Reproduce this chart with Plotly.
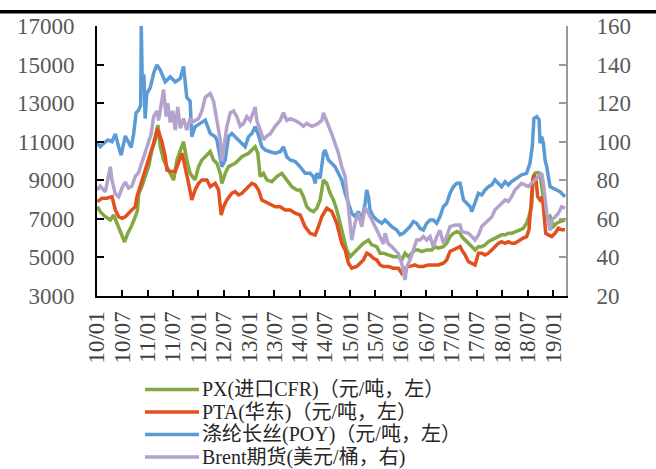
import plotly.graph_objects as go

# ---- PX (imported, CFR), yuan/ton, left axis ----
px_dates = [
    "2010-01-04", "2010-01-24", "2010-03-02", "2010-04-07", "2010-05-01", "2010-05-25",
    "2010-06-18", "2010-07-19", "2010-08-10", "2010-09-05", "2010-10-04", "2010-10-20",
    "2010-10-28", "2010-11-20", "2010-12-14", "2011-01-08", "2011-02-01", "2011-02-25",
    "2011-03-16", "2011-04-02", "2011-04-26", "2011-05-20", "2011-06-13", "2011-07-07",
    "2011-07-31", "2011-08-24", "2011-09-17", "2011-10-10", "2011-11-03", "2011-11-20",
    "2011-12-09", "2012-01-03", "2012-01-27", "2012-02-20", "2012-03-27", "2012-04-20",
    "2012-05-14", "2012-06-07", "2012-06-19", "2012-07-13", "2012-08-06", "2012-09-23",
    "2012-10-17", "2012-11-10", "2012-12-28", "2013-01-21", "2013-02-14", "2013-03-05",
    "2013-03-22", "2013-04-15", "2013-05-09", "2013-06-14", "2013-07-20", "2013-08-25",
    "2013-09-30", "2013-11-05", "2013-12-11", "2014-01-04", "2014-01-28", "2014-02-21",
    "2014-03-17", "2014-04-10", "2014-05-04", "2014-05-28", "2014-06-21", "2014-07-15",
    "2014-08-08", "2014-09-01", "2014-09-25", "2014-10-19", "2014-11-12", "2014-12-06",
    "2014-12-30", "2015-01-23", "2015-02-16", "2015-03-12", "2015-04-05", "2015-05-11",
    "2015-06-04", "2015-07-10", "2015-08-03", "2015-08-27", "2015-10-02", "2015-11-07",
    "2015-12-13", "2016-01-06", "2016-01-30", "2016-02-23", "2016-03-18", "2016-04-11",
    "2016-05-05", "2016-05-29", "2016-07-04", "2016-08-09", "2016-09-02", "2016-09-26",
    "2016-11-01", "2016-11-25", "2016-12-19", "2017-01-13", "2017-02-06", "2017-03-02",
    "2017-03-14", "2017-04-07", "2017-05-01", "2017-05-25", "2017-06-18", "2017-07-12",
    "2017-08-05", "2017-08-29", "2017-09-22", "2017-10-16", "2017-11-08", "2017-12-02",
    "2017-12-26", "2018-01-20", "2018-02-13", "2018-03-08", "2018-04-01", "2018-05-08",
    "2018-05-31", "2018-06-24", "2018-07-11", "2018-07-30", "2018-08-11", "2018-08-23",
    "2018-09-12", "2018-09-29", "2018-10-11", "2018-10-23", "2018-11-04", "2018-11-16",
    "2018-12-10", "2019-01-03", "2019-01-27", "2019-02-20", "2019-03-28",
]
px_values = [
    7630, 7370, 7110, 6940, 7200, 6770,
    6250, 5800, 6250, 6600, 7110, 7460,
    8300, 8670, 9190, 9710, 10570, 11090,
    11870, 10740, 10050, 9710, 9350, 9010,
    10050, 10570, 11000, 10050, 9360, 9190,
    9020, 9710, 10050, 10220, 10490, 10050,
    9880, 9360, 8840, 9360, 9710, 9880,
    10050, 10220, 10400, 10570, 10740, 10400,
    9190, 9360, 9020, 8930, 9190, 9360,
    9020, 8670, 8500, 8500, 8150, 7630,
    7460, 7380, 7550, 7980, 9010, 8840,
    8330, 7980, 7460, 6770, 6070, 5390,
    5040, 5220, 5390, 5560, 5740, 5900,
    5650, 5560, 5220, 5220, 5130, 5040,
    5040, 4870, 5220, 5040, 5220, 5390,
    5390, 5300, 5390, 5390, 5560, 5480,
    5560, 5740, 6080, 6250, 6340, 6250,
    6080, 5910, 5740, 5560, 5390, 5560,
    5560, 5650, 5820, 5910, 6000, 6080,
    6170, 6170, 6250, 6250, 6340, 6430,
    6510, 6770, 7120, 7630, 9190, 9360,
    9400, 9360, 8670, 7980, 7630, 6940,
    7120, 6600, 6770, 6860, 6940,
]

# ---- PTA (East China), yuan/ton, left axis ----
pta_dates = [
    "2010-01-04", "2010-02-06", "2010-03-14", "2010-04-19", "2010-05-13", "2010-06-06",
    "2010-06-30", "2010-07-24", "2010-08-17", "2010-09-10", "2010-10-04", "2010-10-16",
    "2010-11-08", "2010-12-01", "2010-12-26", "2011-01-20", "2011-02-13", "2011-03-09",
    "2011-03-21", "2011-04-14", "2011-05-08", "2011-05-20", "2011-06-13", "2011-07-19",
    "2011-08-10", "2011-09-05", "2011-09-17", "2011-10-10", "2011-10-28", "2011-11-15",
    "2011-12-09", "2012-01-03", "2012-01-27", "2012-03-03", "2012-03-27", "2012-05-02",
    "2012-05-26", "2012-06-14", "2012-07-01", "2012-07-25", "2012-08-30", "2012-09-23",
    "2012-10-17", "2012-11-10", "2012-12-04", "2012-12-28", "2013-01-21", "2013-02-14",
    "2013-03-10", "2013-04-03", "2013-04-27", "2013-06-02", "2013-07-08", "2013-08-13",
    "2013-09-18", "2013-10-24", "2013-11-29", "2014-01-04", "2014-02-09", "2014-03-17",
    "2014-04-22", "2014-05-16", "2014-06-09", "2014-07-15", "2014-08-20", "2014-09-25",
    "2014-10-31", "2014-11-24", "2014-12-18", "2015-01-11", "2015-02-16", "2015-03-12",
    "2015-04-05", "2015-04-29", "2015-05-23", "2015-06-16", "2015-07-10", "2015-08-03",
    "2015-08-27", "2015-10-02", "2015-11-07", "2015-12-13", "2016-01-06", "2016-01-30",
    "2016-02-23", "2016-03-18", "2016-04-11", "2016-05-05", "2016-06-10", "2016-07-16",
    "2016-08-21", "2016-09-26", "2016-11-01", "2016-11-25", "2016-12-19", "2017-01-13",
    "2017-02-06", "2017-03-02", "2017-03-14", "2017-04-07", "2017-05-01", "2017-05-25",
    "2017-06-18", "2017-07-12", "2017-08-05", "2017-08-29", "2017-09-22", "2017-10-16",
    "2017-11-08", "2017-12-02", "2017-12-26", "2018-01-20", "2018-02-13", "2018-03-08",
    "2018-04-01", "2018-05-08", "2018-05-31", "2018-06-24", "2018-07-11", "2018-07-25",
    "2018-08-07", "2018-08-18", "2018-08-31", "2018-09-12", "2018-09-29", "2018-10-16",
    "2018-10-30", "2018-11-09", "2018-11-28", "2018-12-22", "2019-01-15", "2019-02-08",
    "2019-03-04", "2019-03-28",
]
pta_values = [
    7890, 8070, 8070, 8150, 7460, 7110,
    7030, 7110, 7290, 7460, 7630, 8150,
    8670, 9190, 9700, 10400, 10920, 11610,
    11530, 11000, 10220, 9530, 9450, 9450,
    9880, 10400, 10050, 9360, 8670, 7980,
    8500, 8840, 9020, 9020, 8670, 8840,
    8500, 7200, 7630, 7980, 8330, 8410,
    8240, 8330, 8500, 8670, 8840, 8760,
    8500, 7980, 7890, 7800, 7630, 7630,
    7460, 7460, 7290, 7200, 6590, 6250,
    6160, 6590, 7110, 7550, 7380, 6770,
    5730, 5390, 4700, 4440, 4530, 4700,
    4870, 5220, 5130, 4960, 4870, 4610,
    4530, 4530, 4440, 4440, 4180, 4440,
    4530, 4560, 4610, 4530, 4530, 4610,
    4610, 4610, 4700, 4870, 5310, 5390,
    5480, 5560, 5390, 5130, 4780, 4700,
    4610, 5220, 5220, 5130, 5220, 5390,
    5560, 5730, 5820, 5730, 5820, 5730,
    5730, 5910, 6000, 6080, 6430, 7630,
    9020, 9280, 9020, 8150, 7980, 8150,
    6940, 6250, 6170, 6080, 6250, 6510,
    6430, 6430,
]

# ---- Polyester filament POY, yuan/ton, left axis ----
poy_dates = [
    "2010-01-04", "2010-01-24", "2010-02-20", "2010-03-20", "2010-04-19", "2010-05-13",
    "2010-06-06", "2010-06-24", "2010-07-24", "2010-08-17", "2010-09-04", "2010-09-22",
    "2010-10-10", "2010-10-28", "2010-11-12", "2010-11-16", "2010-11-24", "2010-12-05",
    "2010-12-14", "2010-12-26", "2011-01-20", "2011-02-13", "2011-03-09", "2011-04-02",
    "2011-05-08", "2011-06-13", "2011-07-19", "2011-08-24", "2011-09-17", "2011-10-10",
    "2011-11-03", "2011-11-15", "2011-12-09", "2012-01-15", "2012-02-20", "2012-03-27",
    "2012-05-02", "2012-05-14", "2012-06-19", "2012-07-13", "2012-08-06", "2012-08-30",
    "2012-09-23", "2012-10-17", "2012-11-10", "2012-12-04", "2012-12-28", "2013-01-21",
    "2013-02-14", "2013-03-10", "2013-04-03", "2013-04-27", "2013-06-02", "2013-07-08",
    "2013-08-13", "2013-09-06", "2013-09-30", "2013-10-24", "2013-11-29", "2014-01-04",
    "2014-02-09", "2014-03-17", "2014-04-10", "2014-04-22", "2014-05-04", "2014-05-28",
    "2014-06-21", "2014-07-03", "2014-07-27", "2014-08-20", "2014-09-13", "2014-10-07",
    "2014-10-31", "2014-11-24", "2014-12-18", "2015-01-11", "2015-02-04", "2015-02-28",
    "2015-03-24", "2015-04-17", "2015-04-29", "2015-05-11", "2015-05-23", "2015-06-16",
    "2015-07-10", "2015-08-15", "2015-09-08", "2015-10-02", "2015-10-26", "2015-12-01",
    "2015-12-25", "2016-01-18", "2016-02-11", "2016-03-06", "2016-03-30", "2016-04-23",
    "2016-05-17", "2016-06-10", "2016-07-04", "2016-07-28", "2016-08-21", "2016-09-14",
    "2016-10-08", "2016-11-01", "2016-11-25", "2016-12-19", "2017-01-13", "2017-02-06",
    "2017-03-02", "2017-03-26", "2017-04-19", "2017-05-13", "2017-05-25", "2017-06-18",
    "2017-07-12", "2017-08-05", "2017-08-29", "2017-09-22", "2017-10-16", "2017-11-08",
    "2017-12-02", "2017-12-26", "2018-01-20", "2018-02-13", "2018-03-08", "2018-04-13",
    "2018-05-19", "2018-06-24", "2018-07-18", "2018-08-04", "2018-08-16", "2018-09-05",
    "2018-09-22", "2018-09-29", "2018-10-11", "2018-10-23", "2018-11-04", "2018-11-16",
    "2018-11-28", "2018-12-10", "2019-01-03", "2019-01-27", "2019-02-20", "2019-03-16",
    "2019-03-28",
]
poy_values = [
    10920, 10740, 10920, 11090, 11000, 11400,
    10740, 10300, 11300, 10920, 10700, 11400,
    12500, 12640, 12900, 17000, 13700, 14500,
    12200, 13500, 13800, 14550, 14980, 14720,
    14100, 14370, 14100, 14280, 14900, 13300,
    13100, 11260, 11780, 11950, 12120, 11430,
    11260, 11090, 9710, 10050, 11260, 11430,
    11260, 11090, 10920, 10740, 11260, 11430,
    11780, 11340, 10740, 10570, 10480, 10400,
    10480, 10740, 10220, 10050, 9970, 9700,
    9360, 9360, 9180, 8840, 9360, 9100,
    10400, 10570, 10050, 9880, 9700, 9360,
    9010, 8330, 7810, 7290, 7120, 7380,
    6940, 7810, 8500, 8150, 7460, 7120,
    6940, 6770, 6940, 6770, 6600, 6420,
    6170, 6250, 6420, 6600, 6860, 6770,
    6510, 6420, 6770, 6940, 6940, 6770,
    7120, 7630, 7810, 8330, 8670, 8840,
    8840, 7980, 7810, 7630, 7370, 7810,
    8330, 8240, 8500, 8670, 8760, 9020,
    8840, 8670, 8930, 8760, 8930, 9100,
    9280, 9360, 9880, 10740, 12210, 12300,
    12130, 10920, 11260, 10920, 10050, 9710,
    9020, 8670, 8580, 8500, 8410, 8240,
    8150,
]

# ---- Brent futures, USD/barrel, right axis ----
brent_dates = [
    "2010-01-04", "2010-01-24", "2010-03-02", "2010-04-07", "2010-04-19", "2010-05-13",
    "2010-06-06", "2010-06-30", "2010-07-24", "2010-08-17", "2010-09-10", "2010-10-04",
    "2010-10-28", "2010-11-20", "2010-12-14", "2010-12-26", "2011-01-08", "2011-01-26",
    "2011-02-13", "2011-03-09", "2011-03-21", "2011-04-08", "2011-04-26", "2011-05-14",
    "2011-05-26", "2011-06-13", "2011-07-01", "2011-07-19", "2011-08-06", "2011-08-24",
    "2011-09-17", "2011-10-10", "2011-11-03", "2011-11-15", "2011-12-09", "2012-01-03",
    "2012-01-27", "2012-02-20", "2012-03-27", "2012-04-20", "2012-05-14", "2012-06-07",
    "2012-06-19", "2012-07-01", "2012-07-25", "2012-08-18", "2012-09-11", "2012-10-05",
    "2012-10-29", "2012-11-22", "2012-12-16", "2013-01-09", "2013-02-02", "2013-02-14",
    "2013-02-26", "2013-03-22", "2013-04-15", "2013-05-09", "2013-06-02", "2013-07-08",
    "2013-08-13", "2013-09-06", "2013-09-30", "2013-10-24", "2013-11-29", "2014-01-04",
    "2014-01-28", "2014-02-21", "2014-03-29", "2014-05-04", "2014-06-09", "2014-06-21",
    "2014-07-15", "2014-08-20", "2014-09-13", "2014-10-07", "2014-10-31", "2014-11-24",
    "2014-12-18", "2014-12-29", "2015-01-11", "2015-02-04", "2015-02-28", "2015-03-24",
    "2015-04-17", "2015-05-11", "2015-06-04", "2015-06-28", "2015-07-22", "2015-08-27",
    "2015-09-08", "2015-10-02", "2015-10-26", "2015-11-19", "2015-12-13", "2016-01-06",
    "2016-01-18", "2016-01-30", "2016-02-11", "2016-03-06", "2016-03-30", "2016-04-23",
    "2016-05-17", "2016-06-10", "2016-07-04", "2016-07-28", "2016-08-21", "2016-09-14",
    "2016-10-08", "2016-11-01", "2016-11-25", "2016-12-19", "2017-01-25", "2017-03-02",
    "2017-03-14", "2017-05-01", "2017-05-25", "2017-06-18", "2017-07-12", "2017-08-05",
    "2017-08-29", "2017-09-22", "2017-10-16", "2017-11-08", "2017-12-02", "2017-12-26",
    "2018-01-20", "2018-02-13", "2018-03-08", "2018-04-01", "2018-04-25", "2018-05-19",
    "2018-06-12", "2018-07-06", "2018-07-30", "2018-08-23", "2018-09-17", "2018-10-11",
    "2018-10-23", "2018-11-04", "2018-11-16", "2018-12-10", "2018-12-22", "2019-01-15",
    "2019-02-08", "2019-03-04", "2019-03-28",
]
brent_values = [
    75, 77, 74, 87, 80, 73,
    71.5, 76, 79, 76, 77, 82,
    84, 89, 94, 97, 99, 104,
    113, 116, 111, 120, 127, 113,
    120, 110, 116, 106, 118, 107,
    112, 106, 112, 110, 111, 112,
    116, 123, 125, 121, 111, 101,
    90, 97, 108, 115, 116, 113,
    108, 109.5, 113, 111, 116, 118,
    111, 106, 101, 103, 104, 108,
    111, 115, 111, 112, 111, 109.5,
    108, 109.5, 108, 109, 111, 115,
    111, 104, 99, 94, 87, 82,
    66, 56, 49, 58, 63, 56,
    66, 63, 59, 56, 52.5, 47,
    52.5, 47, 45.6, 44, 42, 37,
    31.8, 28.3, 35, 38.7, 44, 49,
    49, 50.8, 49, 50.8, 45.6, 50.8,
    54, 47.3, 50.8, 56, 56.8, 56.8,
    53.4, 52.5, 50.8, 49, 51.6, 56,
    57.7, 59.4, 61, 64.6, 66.3, 68,
    69.8, 69, 71.5, 75, 76.7, 78.4,
    77.6, 76.7, 78.4, 80, 81.9, 83.6,
    78.4, 71.5, 62.9, 54, 59.4, 61,
    62.9, 66.3, 65.5,
]

# ---- axis ticks ----
left_ticks = [3000, 5000, 7000, 9000, 11000, 13000, 15000, 17000]
right_ticks = [20, 40, 60, 80, 100, 120, 140, 160]

series_names = [
    "PX(进口CFR)（元/吨，左）",
    "PTA(华东)（元/吨，左）",
    "涤纶长丝(POY)（元/吨，左）",
    "Brent期货(美元/桶，右)",
]
series_colors = ["#82A743", "#E2501E", "#5A9BD5", "#B3A2CB"]

FONT = "'Liberation Serif', 'Noto Sans CJK SC', serif"
LINE_W = 3.5

fig = go.Figure()
series = [
    (px_dates, px_values, "y"),
    (pta_dates, pta_values, "y"),
    (poy_dates, poy_values, "y"),
    (brent_dates, brent_values, "y2"),
]
for (d, v, ax), name, color in zip(series, series_names, series_colors):
    fig.add_trace(go.Scatter(x=d, y=v, name=name, mode="lines", yaxis=ax,
                             showlegend=False,
                             line=dict(color=color, width=LINE_W)))

# Key below the plot: a short line sample and a label per series
PLOT_L, PLOT_W, PLOT_B, PLOT_H = 97, 469, 296, 270
key_rows_px = [389.5, 412, 434.5, 457]
shapes = []
annotations = []
for row_y, name, color in zip(key_rows_px, series_names, series_colors):
    yp = (PLOT_B - row_y) / PLOT_H
    shapes.append(dict(type="line", xref="paper", yref="paper",
                       x0=(145 - PLOT_L) / PLOT_W, x1=(199 - PLOT_L) / PLOT_W,
                       y0=yp, y1=yp, line=dict(color=color, width=LINE_W)))
    annotations.append(dict(xref="paper", yref="paper",
                            x=(201 - PLOT_L) / PLOT_W, y=yp,
                            xanchor="left", yanchor="middle", showarrow=False,
                            text=name, borderpad=0,
                            font=dict(family=FONT, size=20, color="#262626")))

# heavy rule across the top of the page
shapes.append(dict(type="line", xref="paper", yref="paper",
                   x0=-0.3, x1=1.3, y0=(PLOT_B - 11.7) / PLOT_H, y1=(PLOT_B - 11.7) / PLOT_H,
                   line=dict(color="black", width=3.5)))

fig.update_layout(
    width=656, height=469,
    margin=dict(l=97, r=90, t=26, b=173, autoexpand=False),
    paper_bgcolor="white", plot_bgcolor="white",
    showlegend=False,
    xaxis=dict(
        type="date",
        range=["2010-01-01", "2019-04-04"],
        tick0="2010-01-01", dtick="M6", tickformat="%y/%m",
        tickangle=-90, automargin=False,
        ticks="inside", ticklen=6, tickwidth=1.5, tickcolor="black",
        showline=True, linecolor="black", linewidth=2,
        showgrid=False, zeroline=False,
        ticklabelstandoff=4,
        tickfont=dict(family=FONT, size=23, color="#404040"),
    ),
    yaxis=dict(
        range=[3000, 17000], tickvals=left_ticks, tickformat="d",
        automargin=False,
        ticks="inside", ticklen=7, tickwidth=1.5, tickcolor="black",
        showline=True, linecolor="black", linewidth=2,
        showgrid=False, zeroline=False,
        ticklabelstandoff=16,
        tickfont=dict(family=FONT, size=23, color="#595959"),
    ),
    yaxis2=dict(
        range=[20, 160], tickvals=right_ticks, tickformat="d",
        overlaying="y", side="right", automargin=False,
        ticks="inside", ticklen=7, tickwidth=1.5, tickcolor="#9A9A9A",
        showline=True, linecolor="#9A9A9A", linewidth=2,
        showgrid=False, zeroline=False,
        ticklabelstandoff=24,
        tickfont=dict(family=FONT, size=23, color="#595959"),
    ),
    shapes=shapes,
    annotations=annotations,
)

fig.write_html("out.html")
